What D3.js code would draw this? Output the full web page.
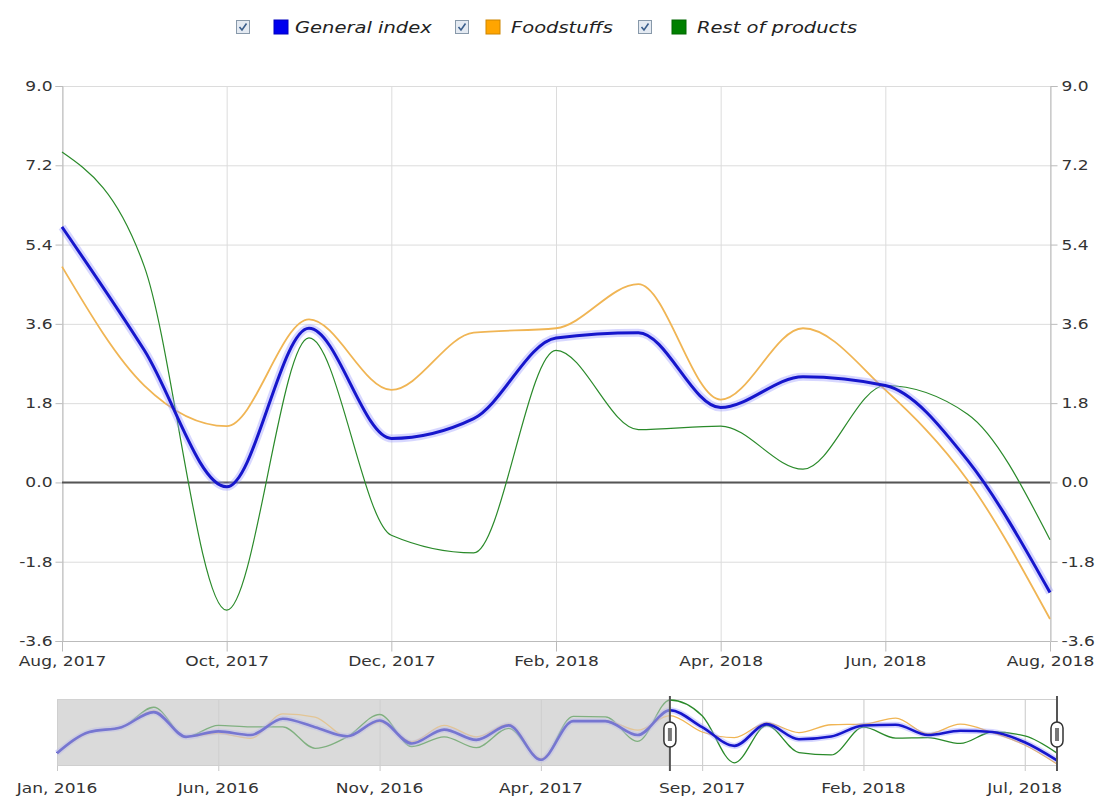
<!DOCTYPE html>
<meta charset="utf-8">
<style>
body { margin: 0; background: #fff; }
svg text { font-family: "DejaVu Sans", Verdana, sans-serif; fill: #333; }
.grid line { stroke: #dcdcdc; }
.axis path, .axis line { stroke: #bbb; }
.legend text { font-style: italic; font-size: 16px; fill: #222; }
</style>
<svg width="1103" height="800"></svg>
<script src="https://d3js.org/d3.v7.min.js"></script>
<script>

// monthly values, Jan 2016 .. Aug 2018
var months = ["Jan, 2016","Feb, 2016","Mar, 2016","Apr, 2016","May, 2016","Jun, 2016","Jul, 2016","Aug, 2016",
  "Sep, 2016","Oct, 2016","Nov, 2016","Dec, 2016","Jan, 2017","Feb, 2017","Mar, 2017","Apr, 2017",
  "May, 2017","Jun, 2017","Jul, 2017","Aug, 2017","Sep, 2017","Oct, 2017","Nov, 2017","Dec, 2017",
  "Jan, 2018","Feb, 2018","Mar, 2018","Apr, 2018","May, 2018","Jun, 2018","Jul, 2018","Aug, 2018"];

var generalIndex = [-1.3, 2.2, 3.0, 5.5, 1.4, 2.3, 1.7, 4.4, 3.0, 1.5, 4.1, 0.3, 2.6, 0.9, 3.3, -2.4,
  4.0, 4.0, 1.7, 5.8, 3.0, -0.1, 3.5, 1.0, 1.45, 3.28, 3.4, 1.7, 2.4, 2.2, 0.5, -2.5];
var foodstuffs = [-1.3, 2.1, 3.0, 5.7, 1.4, 1.96, 1.14, 5.2, 4.68, 1.4, 3.9, 0.6, 3.3, 1.4, 3.5, -2.2,
  4.0, 4.1, 2.5, 4.9, 2.2, 1.28, 3.7, 2.1, 3.4, 3.5, 4.5, 1.88, 3.5, 2.1, 0.05, -3.1];
var restOfProducts = [-1.3, 2.2, 3.0, 6.3, 1.4, 3.3, 3.05, 3.05, -0.5, 1.4, 5.1, -0.2, 1.4, -0.4, 2.8, -2.4,
  4.8, 4.7, 0.65, 7.5, 4.9, -2.9, 3.28, -1.2, -1.6, 3.0, 1.2, 1.28, 0.3, 2.2, 1.55, -1.3];

var yTicks = [-3.6, -1.8, 0, 1.8, 3.6, 5.4, 7.2, 9.0];
var zoomStart = 19, zoomEnd = 31;   // Aug 2017 .. Aug 2018
var mainTicks = [19, 21, 23, 25, 27, 29, 31];
var navTicks = [0, 5, 10, 15, 20, 25, 30];

var series = [
  {name: "General index", values: generalIndex, color: "#1616cc", key: "#0000ee", width: 3, glow: true},
  {name: "Foodstuffs", values: foodstuffs, color: "#f0b554", key: "#ffa500", width: 1.8},
  {name: "Rest of products", values: restOfProducts, color: "#2a8a2a", key: "#008000", width: 1.2}
];

var svg = d3.select("svg");
var SX = 1.22; // text is drawn a little wide, like the original

function widen(sel) {
  sel.attr("transform", function() {
    var x = +d3.select(this).attr("x") || 0;
    return "translate(" + x + ",0) scale(" + SX + ",1) translate(" + (-x) + ",0)";
  });
}

function fmt(d) { return d.toFixed(1); }

var pLeft = 62, pRight = 1050, pTop = 86, pBottom = 641;

var x = d3.scaleLinear().domain([zoomStart, zoomEnd]).range([pLeft, pRight]);
var y = d3.scaleLinear().domain([-3.6, 9]).range([pBottom, pTop]);

// grid
var grid = svg.append("g").attr("class", "grid");
grid.selectAll(".h").data(yTicks).enter().append("line")
    .attr("x1", pLeft).attr("x2", pRight)
    .attr("y1", function(d) { return y(d) + 0.5; }).attr("y2", function(d) { return y(d) + 0.5; });
grid.selectAll(".v").data(mainTicks).enter().append("line")
    .attr("y1", pTop).attr("y2", pBottom)
    .attr("x1", function(d) { return x(d) + 0.5; }).attr("x2", function(d) { return x(d) + 0.5; });

// axes
var yLeft = svg.append("g").attr("class", "axis").attr("transform", "translate(" + (pLeft + 0.5) + ",0)")
    .call(d3.axisLeft(y).tickValues(yTicks).tickSize(7).tickPadding(3).tickFormat(fmt));
var yRight = svg.append("g").attr("class", "axis").attr("transform", "translate(" + (pRight + 0.5) + ",0)")
    .call(d3.axisRight(y).tickValues(yTicks).tickSize(7).tickPadding(4).tickFormat(fmt));
var xAxis = svg.append("g").attr("class", "axis").attr("transform", "translate(0," + (pBottom + 0.5) + ")")
    .call(d3.axisBottom(x).tickValues(mainTicks).tickSize(10).tickPadding(5)
      .tickFormat(function(d) { return months[d]; }));

[yLeft, yRight, xAxis].forEach(function(a) {
  a.select(".domain").attr("stroke", "#bbb");
  a.selectAll("text").style("font-size", "14px").attr("fill", "#333");
});
xAxis.select(".domain").remove();
svg.append("line").attr("x1", pLeft).attr("x2", pRight).attr("y1", pBottom + 0.5).attr("y2", pBottom + 0.5)
    .attr("stroke", "#bbb");
widen(yLeft.selectAll("text"));
widen(yRight.selectAll("text"));
widen(xAxis.selectAll("text"));

// zero line
svg.append("line").attr("x1", pLeft).attr("x2", pRight).attr("y1", y(0)).attr("y2", y(0))
    .attr("stroke", "#555").attr("stroke-width", 2);

// lines (only the zoomed window)
var drawOrder = [2, 1, 0];
var mainLine = d3.line()
    .x(function(d) { return x(d.i); })
    .y(function(d) { return y(d.v); })
    .curve(d3.curveMonotoneX);

drawOrder.forEach(function(k) {
  var s = series[k];
  var pts = s.values.map(function(v, i) { return {i: i, v: v}; })
      .filter(function(d) { return d.i >= zoomStart && d.i <= zoomEnd; });
  if (s.glow) {
    svg.append("path").attr("d", mainLine(pts)).attr("fill", "none")
        .attr("stroke", "#9a9aff").attr("stroke-width", 8).attr("stroke-opacity", 0.4)
        .attr("stroke-linejoin", "round");
  }
  svg.append("path").attr("d", mainLine(pts)).attr("fill", "none")
      .attr("stroke", s.color).attr("stroke-width", s.width).attr("stroke-linejoin", "round");
});

// legend
var legend = svg.append("g").attr("class", "legend");
var legendPos = [{cb: 236, sq: 274, tx: 295}, {cb: 455, sq: 486, tx: 511}, {cb: 638, sq: 672, tx: 697}];
series.forEach(function(s, k) {
  var p = legendPos[k];
  var cb = legend.append("g").attr("transform", "translate(" + p.cb + ",20)");
  cb.append("rect").attr("x", 0.5).attr("y", 0.5).attr("width", 13).attr("height", 13)
      .attr("fill", "#e4eaf2").attr("stroke", "#8899aa");
  cb.append("path").attr("d", "M3.5,7 L6,10 L10.5,3.5").attr("fill", "none")
      .attr("stroke", "#3a5e8c").attr("stroke-width", 1.6);
  legend.append("rect").attr("x", p.sq).attr("y", 20).attr("width", 14).attr("height", 14)
      .attr("fill", s.key).attr("stroke", d3.color(s.key).darker(0.6));
  legend.append("text").attr("x", p.tx).attr("y", 33).text(s.name);
});
widen(legend.selectAll("text"));

// navigator
var nl = 57, nr = 1057, nt = 699, nb = 765;
var nx = d3.scaleLinear().domain([0, months.length - 1]).range([nl, nr]);
var all = generalIndex.concat(foodstuffs, restOfProducts);
var ny = d3.scaleLinear().domain(d3.extent(all)).range([nb - 1, nt + 1]);

var nav = svg.append("g");
nav.append("rect").attr("x", nl).attr("y", nt).attr("width", nx(zoomStart) - nl).attr("height", nb - nt)
    .attr("fill", "#dedede");
nav.selectAll(".ng").data(navTicks).enter().append("line")
    .attr("x1", function(d) { return nx(d) + 0.5; }).attr("x2", function(d) { return nx(d) + 0.5; })
    .attr("y1", nt).attr("y2", nb + 6).attr("stroke", "#c8c8c8");
nav.append("line").attr("x1", nl).attr("x2", nr).attr("y1", nt + 0.5).attr("y2", nt + 0.5).attr("stroke", "#cfcfcf");
nav.append("line").attr("x1", nl).attr("x2", nr).attr("y1", nb + 0.5).attr("y2", nb + 0.5).attr("stroke", "#cfcfcf");

var navLine = d3.line()
    .x(function(d, i) { return nx(i); })
    .y(function(d) { return ny(d); })
    .curve(d3.curveMonotoneX);

drawOrder.forEach(function(k) {
  var s = series[k];
  if (s.glow) {
    nav.append("path").attr("d", navLine(s.values)).attr("fill", "none")
        .attr("stroke", "#9a9aff").attr("stroke-width", 6).attr("stroke-opacity", 0.4);
  }
  nav.append("path").attr("d", navLine(s.values)).attr("fill", "none")
      .attr("stroke", s.color).attr("stroke-width", s.glow ? 2.6 : 1.3);
});

// shade the part that is not selected
nav.append("rect").attr("x", nl).attr("y", nt).attr("width", nx(zoomStart) - nl).attr("height", nb - nt)
    .attr("fill", "#d6d6d6").attr("opacity", 0.5);

var navText = nav.selectAll(".nt").data(navTicks).enter().append("text")
    .attr("x", function(d) { return nx(d); }).attr("y", 793)
    .attr("text-anchor", "middle").style("font-size", "14px")
    .text(function(d) { return months[d]; });
widen(navText);

// handles
[zoomStart, zoomEnd].forEach(function(i) {
  var hx = nx(i);
  nav.append("line").attr("x1", hx).attr("x2", hx).attr("y1", nt - 3).attr("y2", nb + 6)
      .attr("stroke", "#555").attr("stroke-width", 2);
  nav.append("rect").attr("x", hx - 6).attr("y", 722).attr("width", 12).attr("height", 25).attr("rx", 6)
      .attr("fill", "#fff").attr("stroke", "#333").attr("stroke-width", 1.5);
  nav.append("rect").attr("x", hx - 2).attr("y", 728).attr("width", 4).attr("height", 13)
      .attr("fill", "#777");
});

</script>
